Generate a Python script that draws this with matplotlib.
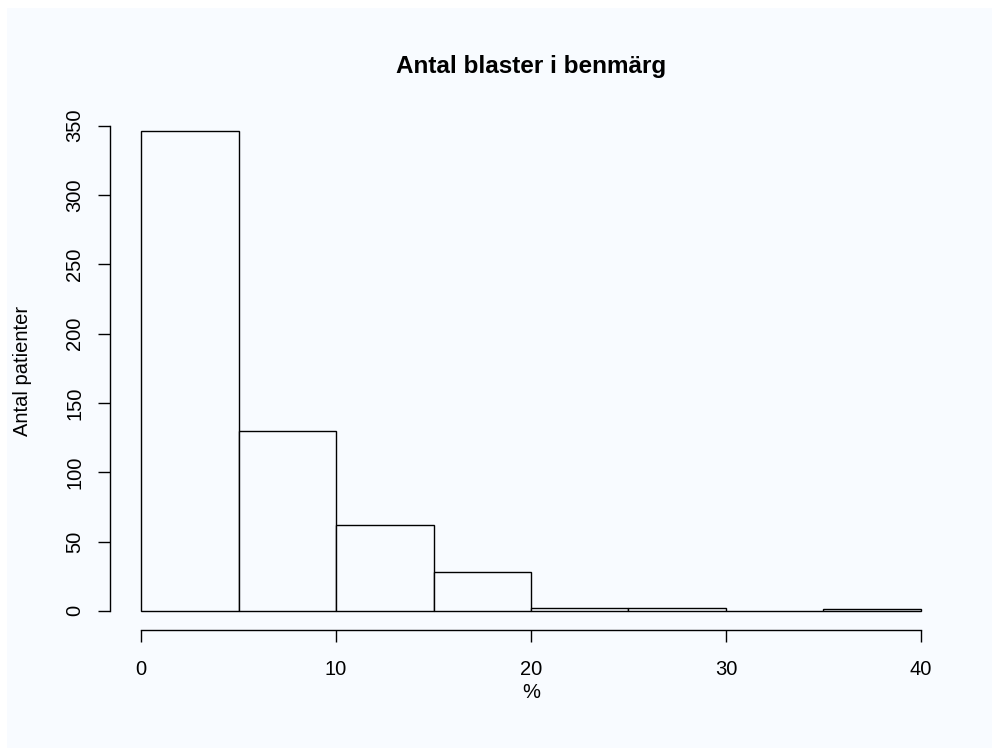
import matplotlib
matplotlib.use("Agg")
import matplotlib.pyplot as plt
from matplotlib.patches import Rectangle

# histogram of bone-marrow blast percentage
bin_edges = [0, 5, 10, 15, 20, 25, 30, 35, 40]
counts = [346, 130, 62, 28, 2, 2, 0, 1]
x_ticks = [0, 10, 20, 30, 40]
y_ticks = [0, 50, 100, 150, 200, 250, 300, 350]

bg = "#f8fbff"
plt.rcParams["font.family"] = ["Liberation Sans", "DejaVu Sans"]

W, H = 992, 748
fig = plt.figure(figsize=(W / 100, H / 100), dpi=100, facecolor="white")
fig.patches.append(Rectangle((7 / W, 0), 1 - 7 / W, 1 - 8 / H,
                             transform=fig.transFigure, facecolor=bg,
                             edgecolor="none", zorder=-10))

ax = fig.add_axes([110 / W, (H - 630) / H, (952 - 110) / W, (630 - 112) / H])
ax.set_facecolor("none")

widths = [b - a for a, b in zip(bin_edges[:-1], bin_edges[1:])]
ax.bar(bin_edges[:-1], counts, width=widths, align="edge",
       facecolor=bg, edgecolor="black", linewidth=1.0)

ax.set_xlim(-1.6, 41.6)
ax.set_ylim(-0.04 * max(counts), 1.04 * max(counts))

for s in ["top", "right"]:
    ax.spines[s].set_visible(False)
ax.spines["left"].set_bounds(0, 350)
ax.spines["bottom"].set_bounds(0, 40)
ax.spines["left"].set_linewidth(1.0)
ax.spines["bottom"].set_linewidth(1.0)

ax.set_xticks(x_ticks)
ax.set_yticks(y_ticks)
ax.set_yticklabels([str(v) for v in y_ticks], rotation=90, va="center")
ax.tick_params(axis="x", length=8.6, width=1.0, pad=13, labelsize=14.5)
ax.tick_params(axis="y", length=8.6, width=1.0, pad=10, labelsize=14.5)

fig.text(531 / W, 1 - 67 / H, "Antal blaster i benmärg", ha="center",
         va="center", fontsize=17.5, fontweight="bold")
fig.text(531 / W, 1 - 692 / H, "%", ha="center", va="center", fontsize=14.5)
fig.text(23 / W, 1 - 371 / H, "Antal patienter", ha="center", va="center",
         rotation=90, fontsize=14.5)

fig.savefig("out.png", dpi=100, facecolor="white")
